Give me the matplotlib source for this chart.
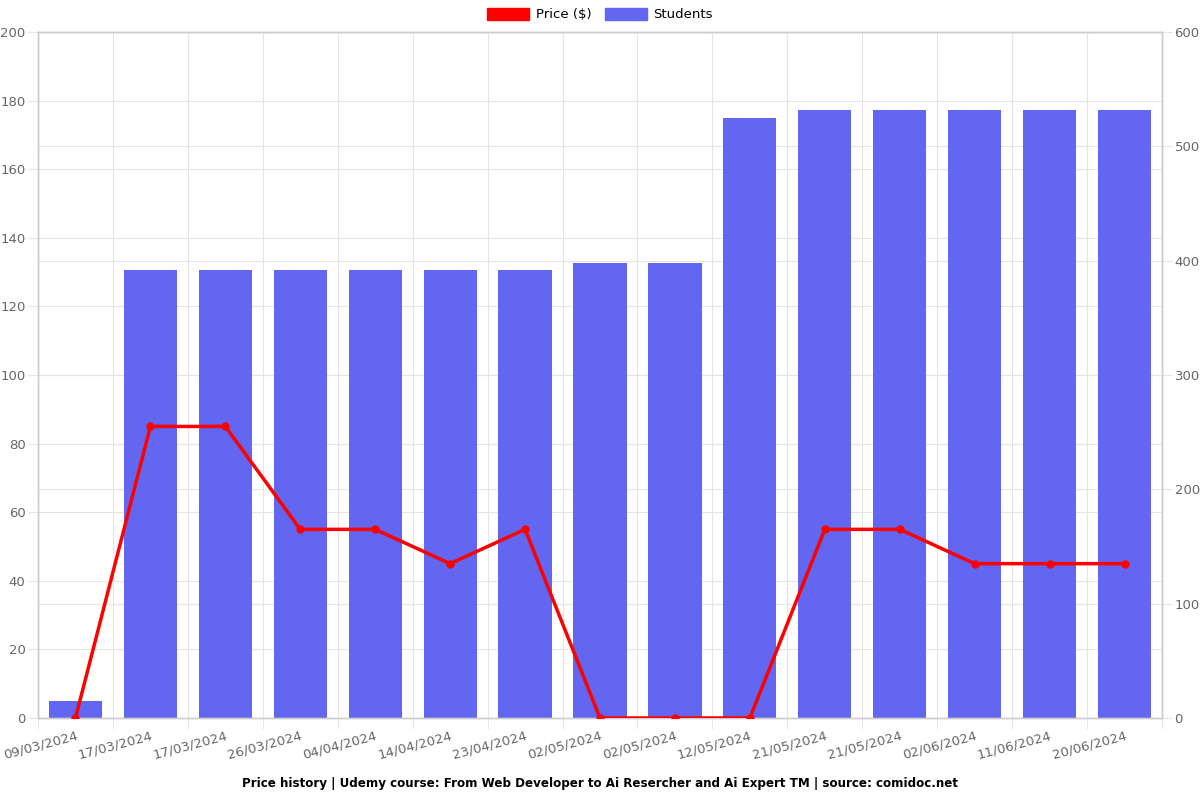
import matplotlib
matplotlib.use("Agg")
import matplotlib.pyplot as plt
import numpy as np
from matplotlib.patches import Patch

dates = ["09/03/2024", "17/03/2024", "17/03/2024", "26/03/2024", "04/04/2024",
         "14/04/2024", "23/04/2024", "02/05/2024", "02/05/2024", "12/05/2024",
         "21/05/2024", "21/05/2024", "02/06/2024", "11/06/2024", "20/06/2024"]
price = [0, 85, 85, 55, 55, 45, 55, 0, 0, 0, 55, 55, 45, 45, 45]
students = [15, 392, 392, 392, 392, 392, 392, 398, 398, 525, 532, 532, 532, 532, 532]

plt.rcParams['font.family'] = ['DejaVu Sans']
fig = plt.figure(figsize=(12, 8), dpi=100)
ax = fig.add_axes([38/1200, 82/800, 1124/1200, 686/800])
ax2 = ax.twinx()

x = np.arange(len(dates))
grid_c = "#e5e5e5"
tick_c = "#666666"

ax2.bar(x, students, width=0.71, color="#6366f1", zorder=2)
ax.plot(x, price, color="#ff0000", linewidth=2.5, marker="o", markersize=5, zorder=5)

ax.set_zorder(ax2.get_zorder() + 1)
ax.patch.set_visible(False)

n = len(dates)
ax.set_xlim(-0.5, n - 0.5)
ax.set_ylim(0, 200)
ax2.set_ylim(0, 600)
ax.set_yticks(np.arange(0, 201, 20))
ax2.set_yticks(np.arange(0, 601, 100))

ax.set_xticks(x)
ax.set_xticklabels(dates, rotation=15, ha="right", rotation_mode="anchor")
ax.set_xticks(np.arange(-0.5, n, 1), minor=True)
ax.tick_params(axis="x", which="major", length=0, labelsize=9.5, colors=tick_c, pad=8)
ax.tick_params(axis="x", which="minor", length=8, color=grid_c)
ax.tick_params(axis="y", length=7, color=grid_c, labelsize=9.5, labelcolor=tick_c, pad=2)
ax2.tick_params(axis="y", length=7, color=grid_c, labelsize=9.5, labelcolor=tick_c, pad=2)

for a in (ax, ax2):
    for s in a.spines.values():
        s.set_color("#cccccc")
        s.set_linewidth(1)

# grids
for xv in np.arange(-0.5, n, 1):
    ax2.axvline(xv, color=grid_c, linewidth=0.8, zorder=0)
for yv in np.arange(20, 201, 20):
    ax2.axhline(yv * 3, color=grid_c, linewidth=0.8, zorder=0)
for yv in np.arange(100, 601, 100):
    ax2.axhline(yv, color=grid_c, linewidth=0.8, zorder=0)

handles = [Patch(facecolor="#ff0000", edgecolor="#ff0000"),
           Patch(facecolor="#6366f1", edgecolor="#6366f1")]
fig.legend(handles, ["Price ($)", "Students"], loc="upper center",
           bbox_to_anchor=(0.5, 1.005), ncol=2, frameon=False, fontsize=9.5,
           handlelength=3.2, handleheight=1.0, columnspacing=1.0, handletextpad=0.5)

fig.text(0.5, (800 - 783) / 800, "Price history | Udemy course: From Web Developer to Ai Resercher and Ai Expert TM | source: comidoc.net",
         ha="center", va="center", fontsize=8.6, fontweight="bold")

fig.savefig("out.png", dpi=100)
